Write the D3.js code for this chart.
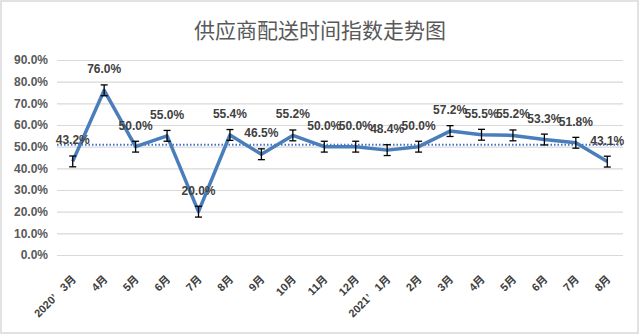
<!DOCTYPE html>
<html>
<head>
<meta charset="utf-8">
<script src="https://cdn.jsdelivr.net/npm/d3@7"></script>
<style>
  html, body { margin: 0; padding: 0; background: #fff; }
  svg { display: block; }
</style>
</head>
<body>
<svg id="chart" width="640" height="335"></svg>
<script>
// Supplier delivery time index, monthly (%)
const months = ["2020’\u00a0\u00a0\u00a03月", "4月", "5月", "6月", "7月", "8月", "9月", "10月", "11月", "12月",
                "2021’\u00a0\u00a0\u00a01月", "2月", "3月", "4月", "5月", "6月", "7月", "8月"];
const indexValues = [43.2, 76.0, 50.0, 55.0, 20.0, 55.4, 46.5, 55.2, 50.0, 50.0,
                     48.4, 50.0, 57.2, 55.5, 55.2, 53.3, 51.8, 43.1];
const errorMargin = [2.5, 2.5, 2.5, 2.5, 2.5, 2.5, 2.5, 2.5, 2.5, 2.5,
                     2.5, 2.5, 2.5, 2.5, 2.5, 2.5, 2.5, 2.5];
const yTicks = [0, 10, 20, 30, 40, 50, 60, 70, 80, 90];

const svg = d3.select("#chart");
const W = 640, H = 335;
const plot = { left: 57, right: 623, top: 60, bottom: 255 };

// outer frame
svg.append("rect")
  .attr("x", 1).attr("y", 1).attr("width", W - 3).attr("height", H - 3)
  .attr("fill", "#fff").attr("stroke", "#d9d9d9").attr("stroke-width", 1.5);

// title
svg.append("text")
  .attr("x", 320).attr("y", 38)
  .attr("text-anchor", "middle")
  .attr("font-family", "'Noto Sans CJK SC', sans-serif")
  .attr("font-size", 21)
  .attr("fill", "#595959")
  .text("供应商配送时间指数走势图");

const x = d3.scaleBand().domain(d3.range(months.length)).range([plot.left, plot.right]);
const y = d3.scaleLinear().domain([0, 90]).range([plot.bottom, plot.top]);
const cx = i => x(i) + x.bandwidth() / 2;

// y axis with gridlines
const yAxis = svg.append("g")
  .attr("transform", `translate(${plot.left},0)`)
  .call(d3.axisLeft(y).tickValues(yTicks)
    .tickSize(-(plot.right - plot.left)).tickPadding(9)
    .tickFormat(d => d.toFixed(1) + "%"));
yAxis.select(".domain").remove();
yAxis.selectAll(".tick line").attr("stroke", "#d9d9d9").attr("stroke-width", 1.2);
yAxis.selectAll(".tick text")
  .attr("font-family", "'Liberation Sans', Arial, sans-serif")
  .attr("font-weight", "bold")
  .attr("font-size", 12)
  .attr("fill", "#595959");

// x axis labels, rotated
const xAxis = svg.append("g")
  .attr("transform", `translate(0,${plot.bottom})`)
  .call(d3.axisBottom(x).tickSize(0).tickFormat(i => months[i]));
xAxis.select(".domain").remove();
xAxis.selectAll(".tick text")
  .attr("font-family", "'Liberation Sans', 'Noto Sans CJK SC', sans-serif")
  .attr("font-weight", "bold")
  .attr("font-size", 11)
  .attr("fill", "#404040")
  .attr("text-anchor", "end")
  .attr("y", 0).attr("dy", 0)
  .attr("transform", "translate(4,25) rotate(-45)");

// average reference line
const avg = d3.mean(indexValues);
svg.append("line")
  .attr("x1", plot.left).attr("x2", plot.right)
  .attr("y1", y(avg)).attr("y2", y(avg))
  .attr("stroke", "#4472c4").attr("stroke-width", 2)
  .attr("stroke-dasharray", "1.5,2");

// series line
svg.append("path")
  .datum(indexValues)
  .attr("fill", "none")
  .attr("stroke", "#4a7ebb")
  .attr("stroke-width", 3.5)
  .attr("stroke-linejoin", "round")
  .attr("d", d3.line().x((d, i) => cx(i)).y(d => y(d)));

// error bars
const eb = svg.append("g").attr("stroke", "#000").attr("stroke-width", 1.3);
indexValues.forEach((v, i) => {
  const e = errorMargin[i];
  const px = cx(i), y1 = y(v + e), y2 = y(v - e);
  eb.append("line").attr("x1", px).attr("x2", px).attr("y1", y1).attr("y2", y2);
  eb.append("line").attr("x1", px - 3.5).attr("x2", px + 3.5).attr("y1", y1).attr("y2", y1);
  eb.append("line").attr("x1", px - 3.5).attr("x2", px + 3.5).attr("y1", y2).attr("y2", y2);
});

// value labels
svg.append("g").selectAll("text")
  .data(indexValues)
  .join("text")
  .attr("x", (d, i) => cx(i))
  .attr("y", d => y(d) - 17)
  .attr("text-anchor", "middle")
  .attr("font-family", "'Liberation Sans', Arial, sans-serif")
  .attr("font-weight", "bold")
  .attr("font-size", 12)
  .attr("fill", "#404040")
  .text(d => d.toFixed(1) + "%");
</script>
</body>
</html>
